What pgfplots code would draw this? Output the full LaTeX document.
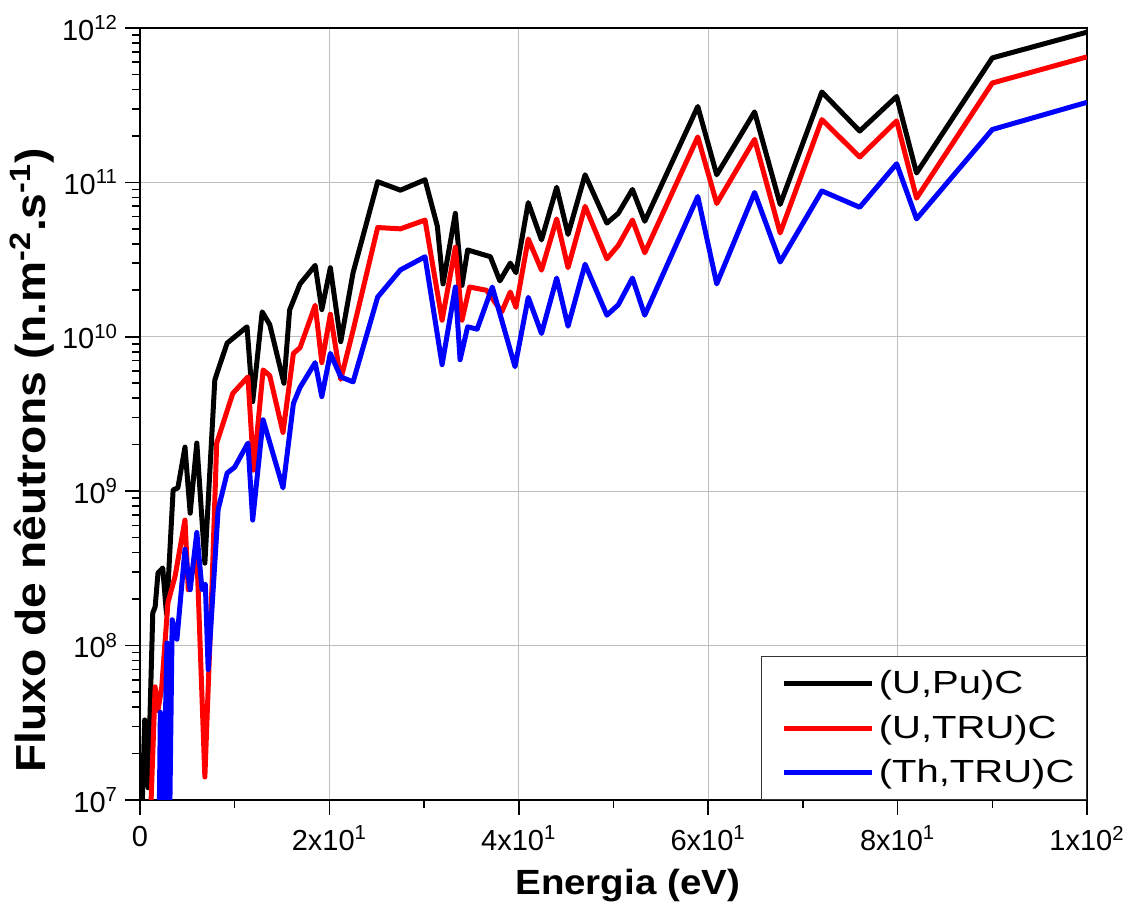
\documentclass[border=0pt]{standalone}
\usepackage{fontspec}
\setmainfont{Liberation Sans}
\newfontfamily\wideA[FakeStretch=1.1]{Liberation Sans}
\newfontfamily\wideB[FakeStretch=1.25]{Liberation Sans}
\usepackage{pgfplots}
\pgfplotsset{compat=1.18}
\begin{document}
\begin{tikzpicture}
\begin{axis}[name=ax, scale only axis, width=473.5pt, height=386pt,
  ymode=log, xmin=0, xmax=100, ymin=1e7, ymax=1e12,
  axis line style={line width=1pt},
  xtick={0,20,40,60,80,100}, minor xtick={10,30,50,70,90},
  xticklabels={0,2x10\textsuperscript{1},4x10\textsuperscript{1},6x10\textsuperscript{1},8x10\textsuperscript{1},1x10\textsuperscript{2}},
  ytick={1e7,1e8,1e9,1e10,1e11,1e12},
  yticklabels={10\textsuperscript{7},10\textsuperscript{8},10\textsuperscript{9},10\textsuperscript{10},10\textsuperscript{11},10\textsuperscript{12}},
  minor ytick={2e7,3e7,4e7,5e7,6e7,7e7,8e7,9e7,2e8,3e8,4e8,5e8,6e8,7e8,8e8,9e8,2e9,3e9,4e9,5e9,6e9,7e9,8e9,9e9,2e10,3e10,4e10,5e10,6e10,7e10,8e10,9e10,2e11,3e11,4e11,5e11,6e11,7e11,8e11,9e11},
  tick align=outside, xtick pos=bottom, ytick pos=left,
  major tick length=7.5pt, minor tick length=4pt,
  every tick/.style={black, line width=0.8pt},
  grid=major, major grid style={gray!50, line width=0.6pt},
  xticklabel style={font=\fontsize{14.5}{16}\selectfont, yshift=-2pt},
  yticklabel style={font=\fontsize{14.5}{16}\selectfont},
  xlabel={Energia (eV)},
  ylabel={Fluxo de nêutrons (n.m\textsuperscript{-2}.s\textsuperscript{-1})},
  xlabel style={font=\wideA\bfseries\fontsize{17.5}{20}\selectfont, at={(ticklabel cs:0.515)}, yshift=-2pt},
  ylabel style={font=\wideA\bfseries\fontsize{21}{23}\selectfont, at={(ticklabel cs:0.44)}, yshift=-3pt},
  legend style={at={(1,0)}, anchor=south east, draw=black!80, line width=0.6pt, fill=white,
    font=\wideB\fontsize{16}{19}\selectfont, inner xsep=4pt, inner ysep=5pt, row sep=5pt,
    cells={anchor=west}},
  legend image code/.code={\path (0pt,0pt); \draw[#1] (6pt,0pt) -- (50pt,0pt);},
  every axis plot/.append style={line width=2.5pt, line join=round},
  clip=true,
]
\addplot[black] coordinates {
(0.1,5e6) (0.5,3.3e7) (0.85,1.2e7) (1.35,1.63e8) (1.6,1.78e8) (1.9,2.95e8) (2.4,3.18e8) (2.8,1.6e8) (3.5,1.02e9) (4.0,1.05e9) (4.75,1.93e9) (5.3,7.2e8) (6.0,2.05e9) (6.85,3.42e8) (7.9,5.25e9) (8.25,6.1e9) (9.2,9.1e9) (11.3,1.16e10) (11.9,3.8e9) (12.9,1.45e10) (13.7,1.2e10) (15.2,5.0e9) (15.8,1.49e10) (16.9,2.2e10) (18.5,2.9e10) (19.2,1.5e10) (20.1,2.8e10) (21.2,9.3e9) (22.5,2.6e10) (25.1,1.01e11) (27.5,8.9e10) (30.1,1.04e11) (31.4,5.2e10) (32.0,2.2e10) (33.3,6.3e10) (34.0,2.15e10) (34.6,3.65e10) (37.0,3.3e10) (38.0,2.3e10) (39.1,3.0e10) (39.7,2.6e10) (41.0,7.4e10) (42.4,4.24e10) (44.0,9.3e10) (45.2,4.6e10) (47.0,1.12e11) (49.3,5.45e10) (50.5,6.3e10) (52.0,9.0e10) (53.3,5.6e10) (58.9,3.1e11) (60.9,1.12e11) (64.9,2.86e11) (67.6,7.2e10) (72.0,3.85e11) (76.0,2.15e11) (79.9,3.6e11) (82.0,1.15e11) (90.0,6.4e11) (100,9.4e11)
};
\addlegendentry{(U,Pu)C}
\addplot[red] coordinates {
(1.0,5e6) (1.6,5.4e7) (1.9,3.8e7) (2.3,5.4e7) (2.95,1.9e8) (3.7,2.8e8) (4.75,6.5e8) (5.1,2.3e8) (6.0,4.0e8) (6.85,1.41e7) (7.6,2.4e8) (8.1,2.05e9) (9.8,4.3e9) (11.4,5.5e9) (12.0,1.37e9) (13.0,6.1e9) (13.7,5.6e9) (15.1,2.4e9) (16.2,7.8e9) (16.9,8.5e9) (18.5,1.6e10) (19.2,6.8e9) (20.1,1.4e10) (21.2,5.3e9) (22.5,1.1e10) (25.1,5.1e10) (27.5,5.0e10) (30.1,5.7e10) (31.9,1.28e10) (33.3,3.8e10) (34.0,1.28e10) (34.8,2.1e10) (36.6,2.0e10) (38.2,1.45e10) (39.1,1.95e10) (39.7,1.55e10) (41.0,4.3e10) (42.4,2.7e10) (44.0,5.8e10) (45.2,2.8e10) (47.0,7.0e10) (49.3,3.2e10) (50.5,3.9e10) (52.0,5.7e10) (53.3,3.5e10) (58.9,1.97e11) (60.9,7.3e10) (64.9,1.9e11) (67.6,4.7e10) (72.0,2.55e11) (76.0,1.46e11) (79.9,2.5e11) (82.0,7.9e10) (90.0,4.4e11) (100,6.5e11)
};
\addlegendentry{(U,TRU)C}
\addplot[blue] coordinates {
(2.0,5e6) (2.15,3.7e7) (2.4,5e6) (2.85,1.04e8) (3.1,5e6) (3.4,1.47e8) (3.9,1.1e8) (4.75,4.2e8) (5.3,2.3e8) (6.0,5.4e8) (6.55,2.3e8) (6.9,2.5e8) (7.2,7e7) (8.25,7.6e8) (9.2,1.31e9) (10.0,1.43e9) (11.4,2.05e9) (11.9,6.5e8) (13.0,2.9e9) (15.1,1.05e9) (16.2,3.7e9) (16.9,4.7e9) (18.5,6.8e9) (19.2,4.1e9) (20.1,7.8e9) (21.2,5.5e9) (22.5,5.1e9) (25.1,1.81e10) (27.5,2.71e10) (30.1,3.3e10) (31.9,6.6e9) (33.3,2.1e10) (33.8,7.1e9) (34.6,1.16e10) (35.6,1.12e10) (37.2,2.1e10) (39.6,6.4e9) (41.0,1.8e10) (42.4,1.05e10) (44.0,2.4e10) (45.2,1.17e10) (47.0,2.95e10) (49.3,1.38e10) (50.5,1.61e10) (52.0,2.4e10) (53.3,1.38e10) (58.9,8.1e10) (60.9,2.2e10) (64.9,8.6e10) (67.6,3.05e10) (72.0,8.8e10) (76.0,6.9e10) (79.9,1.32e11) (82.0,5.8e10) (90.0,2.2e11) (100,3.3e11)
};
\addlegendentry{(Th,TRU)C}
\end{axis}
\pgfresetboundingbox
\path ([xshift=-70pt,yshift=-54pt]ax.south west) rectangle ([xshift=22.5pt,yshift=14pt]ax.north east);
\end{tikzpicture}
\end{document}
